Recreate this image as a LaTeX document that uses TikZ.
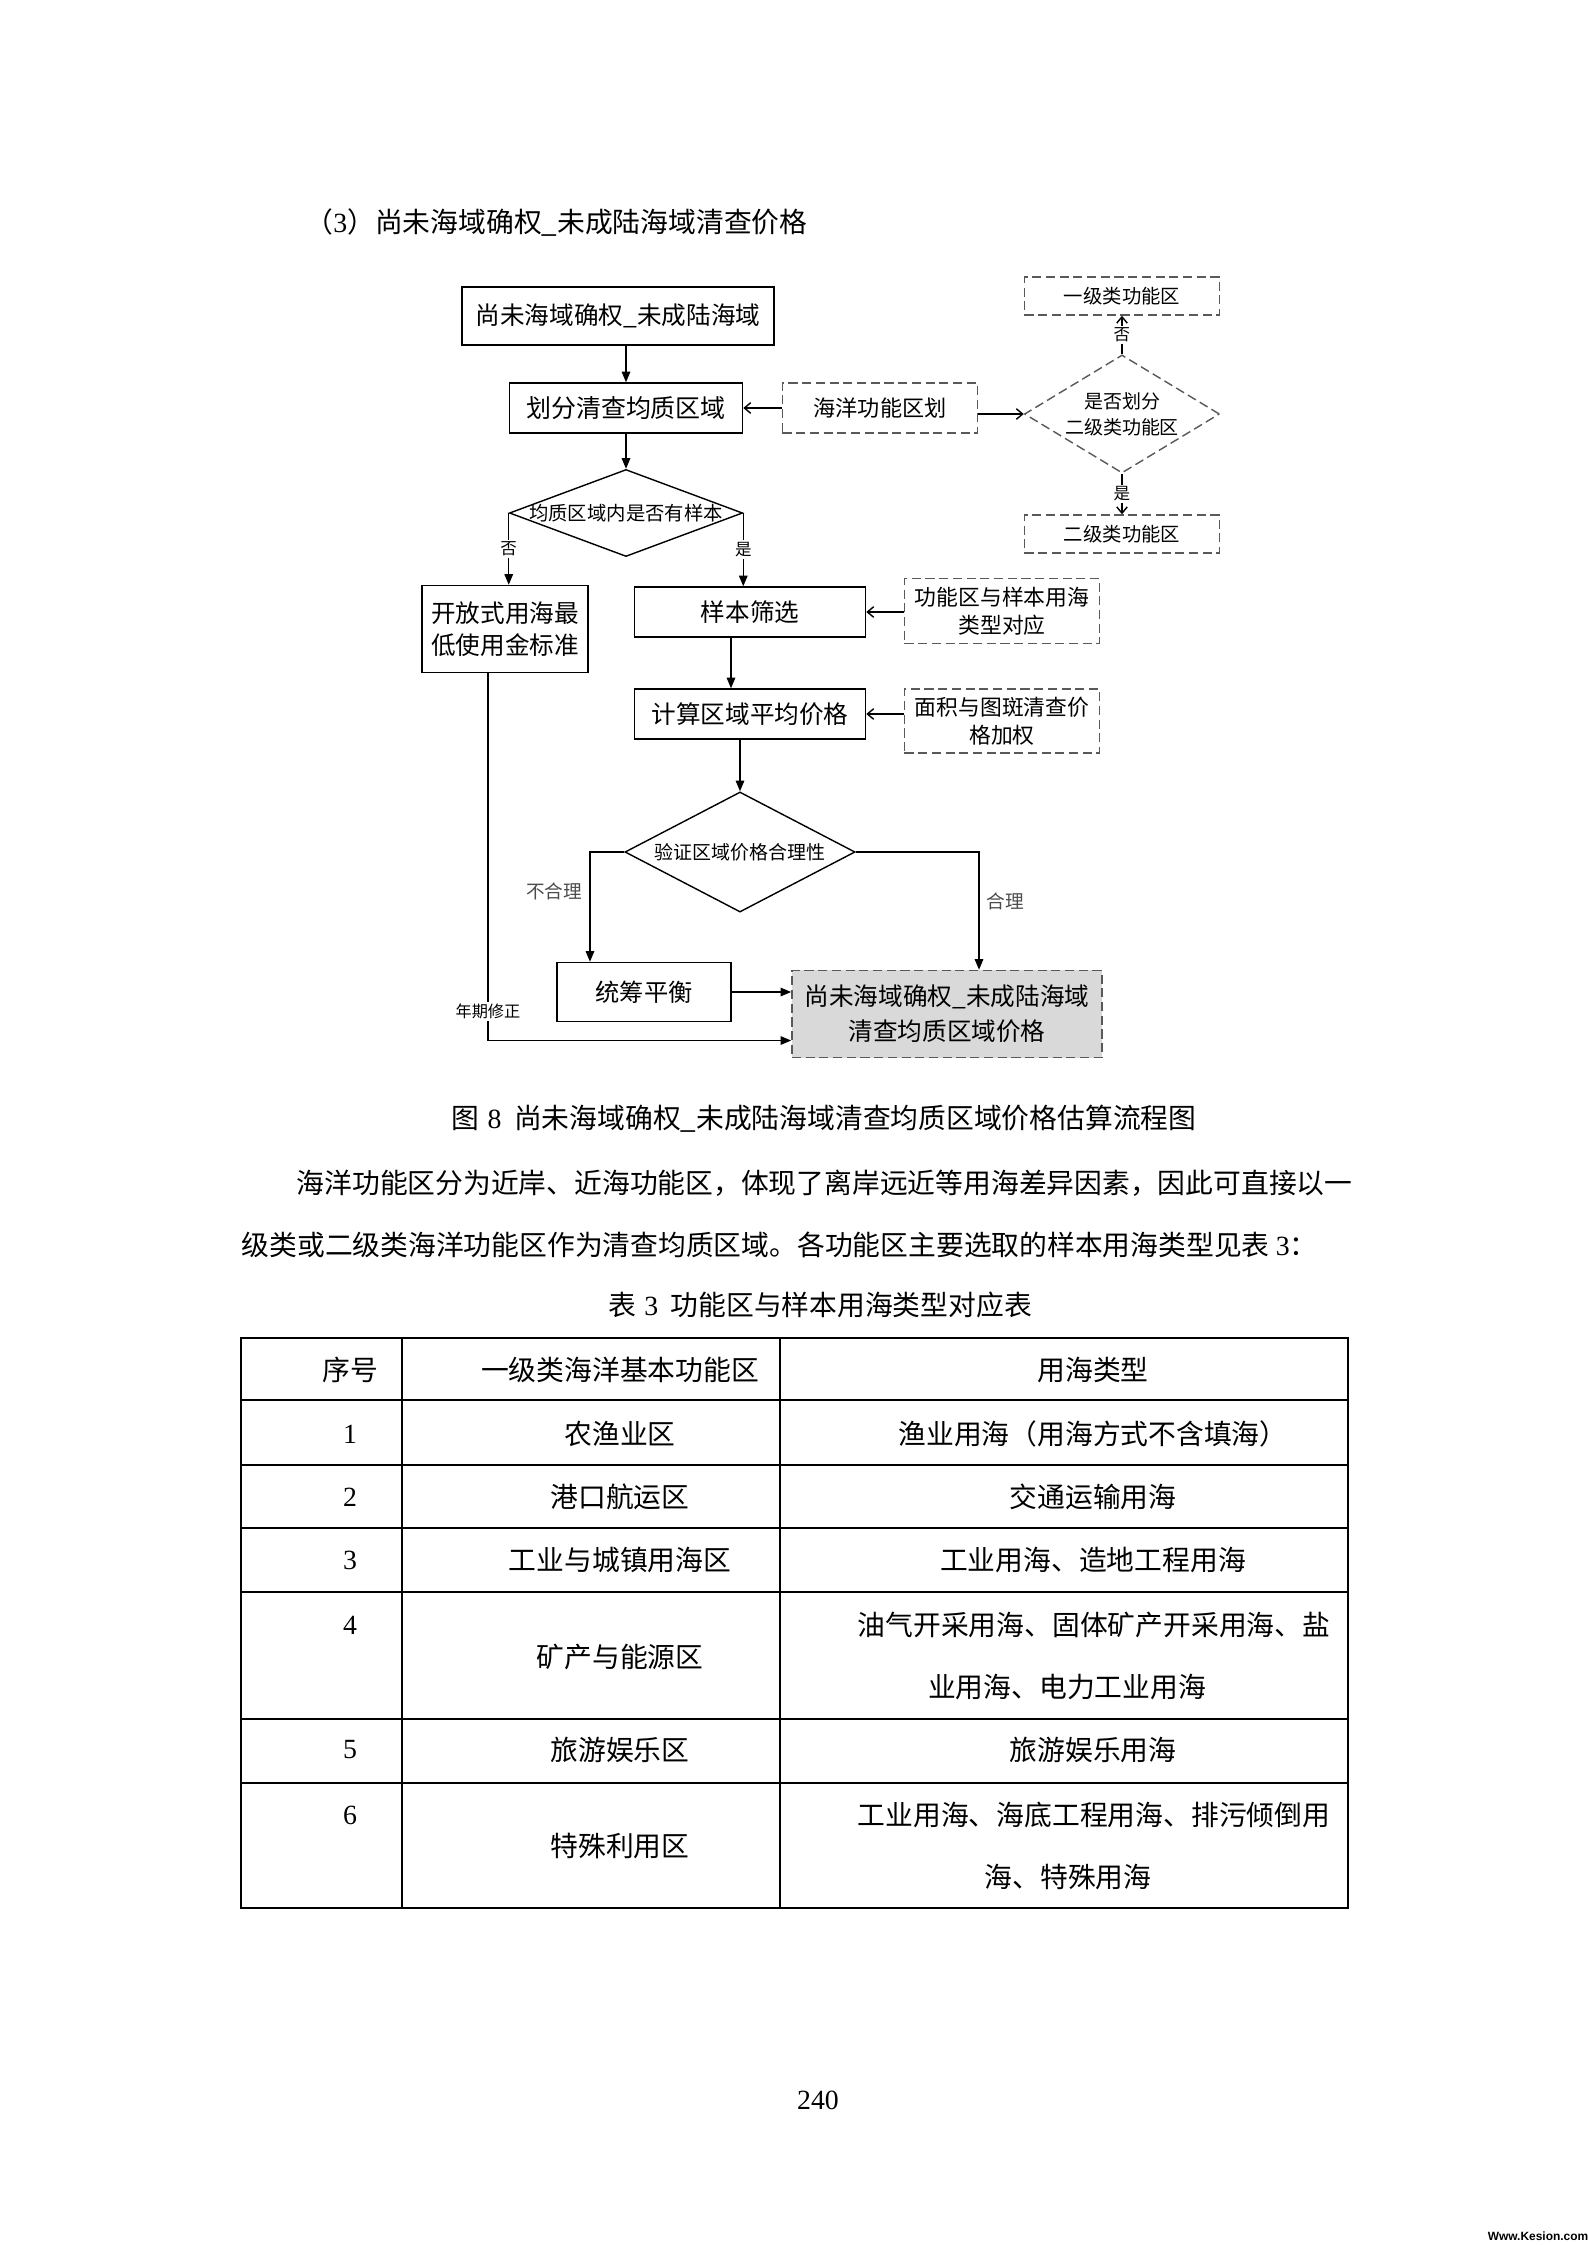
\documentclass[tikz,border=0pt]{standalone}
\usepackage{fontspec}
\setmainfont{Liberation Serif}
\newfontfamily\cjk{Noto Sans CJK SC}
\newfontfamily\wmfont{Liberation Sans}
\usepackage{tikz}
\usetikzlibrary{positioning,arrows.meta,shapes.geometric}
\newcommand\fsz[2]{\fontsize{#1pt}{#2pt}\selectfont}

\begin{document}
\begin{tikzpicture}[x=0.01cm, y=-0.01cm,
    every node/.style={font=\cjk},
    box/.style={draw, line width=0.4pt, align=center, inner sep=0pt},
    dbox/.style={box, draw=black!65, dash pattern=on 2.6pt off 1.3pt},
    diam/.style={diamond, draw, line width=0.4pt, inner sep=0pt, align=center},
    ar/.style={-{Triangle[length=3pt,width=2.4pt]}, line width=0.4pt},
    oar/.style={-{Straight Barb[length=1.8pt,width=3pt]}, line width=0.4pt},
    yn/.style={fill=white, inner sep=0.6pt, font=\cjk\fsz{4.7}{5}},
    lab/.style={font=\cjk\fsz{5.3}{6}, text=black!70, inner sep=2pt},
    body/.style={font=\cjk\fsz{7.9}{9}, inner sep=0pt},
    rule/.style={line width=0.7pt}]
  \fill[white] (0,0) rectangle (1587,2245);
  \useasboundingbox (0,0) rectangle (1587,2245);

  \node[body, anchor=west] (head) at (305,223) {（{\rmfamily 3}）尚未海域确权\_未成陆海域清查价格};

  % flow chart
  \node[box, minimum width=3.12cm, minimum height=0.58cm, font=\cjk\fsz{7}{8}]
    (top) at (618,316) {尚未海域确权\_未成陆海域};
  \node[box, minimum width=2.33cm, minimum height=0.5cm, font=\cjk\fsz{7.1}{8}]
    (split) at (626,408) {划分清查均质区域};
  \node[dbox, minimum width=1.95cm, minimum height=0.5cm, font=\cjk\fsz{6.3}{7}]
    (zoning) at (880,408) {海洋功能区划};
  \node[diam, draw=black!65, dash pattern=on 2.6pt off 1.3pt, aspect=1.64,
        minimum width=1.95cm, minimum height=1.18cm, font=\cjk\fsz{5.4}{7.3}]
    (isTwo) at (1122,414) {是否划分\\二级类功能区};
  \node[dbox, minimum width=1.95cm, minimum height=0.38cm, font=\cjk\fsz{5.5}{6}]
    (lvlOne) at (1122,296) {一级类功能区};
  \node[dbox, minimum width=1.95cm, minimum height=0.38cm, font=\cjk\fsz{5.5}{6}]
    (lvlTwo) at (1122,534) {二级类功能区};
  \node[diam, aspect=2.68, minimum width=2.33cm, minimum height=0.87cm, font=\cjk\fsz{5.5}{6}]
    (hasSample) at (626,513) {\makebox[0pt]{均质区域内是否有样本}};
  \node[box, minimum width=1.66cm, minimum height=0.87cm, font=\cjk\fsz{7}{9.1}]
    (openUse) at (505,629) {开放式用海最\\低使用金标准};
  \node[box, minimum width=2.31cm, minimum height=0.5cm, font=\cjk\fsz{7}{8}]
    (screen) at (750,612) {样本筛选};
  \node[dbox, minimum width=1.95cm, minimum height=0.65cm, font=\cjk\fsz{6.2}{8}]
    (match) at (1002,611) {功能区与样本用海\\类型对应};
  \node[box, minimum width=2.31cm, minimum height=0.5cm, font=\cjk\fsz{7}{8}]
    (avgPrice) at (750,714) {计算区域平均价格};
  \node[dbox, minimum width=1.95cm, minimum height=0.64cm, font=\cjk\fsz{6.2}{8}]
    (weight) at (1002,721) {面积与图斑清查价\\格加权};
  \node[diam, aspect=1.92, minimum width=2.30cm, minimum height=1.20cm, font=\cjk\fsz{5.4}{6}]
    (check) at (740,852) {\makebox[0pt]{验证区域价格合理性}};
  \node[box, minimum width=1.74cm, minimum height=0.59cm, font=\cjk\fsz{6.9}{8}]
    (balance) at (644,992) {统筹平衡};
  \node[dbox, fill=black!15, minimum width=3.10cm, minimum height=0.87cm, font=\cjk\fsz{7}{10}]
    (result) at (947,1014) {尚未海域确权\_未成陆海域\\清查均质区域价格};

  \draw[ar] (split.north |- top.south) -- (split.north);
  \draw[ar] (split) -- (hasSample);
  \draw[oar] (zoning) -- (split);
  \draw[oar] (zoning.east |- isTwo.west) -- (isTwo.west);
  \draw[oar] (isTwo) -- node[yn]{否} (lvlOne);
  \draw[oar] (isTwo) -- node[yn]{是} (lvlTwo);
  \draw[ar] (hasSample.west) -- node[yn]{否} (hasSample.west |- openUse.north);
  \draw[ar] (hasSample.east) -- node[yn]{是} (hasSample.east |- screen.north);
  \draw[oar] (match.west |- screen.east) -- (screen.east);
  \draw[ar] ([xshift=-0.19cm]screen.south) -- ([xshift=-0.19cm]avgPrice.north);
  \draw[oar] (weight.west |- avgPrice.east) -- (avgPrice.east);
  \draw[ar] (check.north |- avgPrice.south) -- (check.north);
  \draw[ar] (check.west) -| node[pos=0.68, left, lab]{不合理} ([xshift=-0.54cm]balance.north);
  \draw[ar] (check.east) -| node[pos=0.71, right, lab]{合理} ([xshift=0.32cm]result.north);
  \draw[ar] (balance.east) -- (balance.east -| result.west);
  \draw[ar] ([xshift=-0.17cm]openUse.south) |- node[pos=0.46, yn, font=\cjk\fsz{4.6}{5}]{年期修正}
    ([yshift=-0.265cm]result.west);

  % caption and text
  \node[body] (cap) at (824,1119) {图\hspace{0.3em}{\rmfamily 8}\hspace{0.45em}尚未海域确权\_未成陆海域清查均质区域价格估算流程图};
  \node[body, anchor=west] (para1) at (296,1183) {海洋功能区分为近岸、近海功能区，体现了离岸远近等用海差异因素，因此可直接以一};
  \node[body, anchor=west] (para2) at (241,1245) {级类或二级类海洋功能区作为清查均质区域。各功能区主要选取的样本用海类型见表 {\rmfamily 3}：};
  \node[body] (tcap) at (820,1305) {表\hspace{0.3em}{\rmfamily 3}\hspace{0.45em}功能区与样本用海类型对应表};

  % table
  \draw[rule] (241,1338) rectangle (1348,1908);
  \foreach \y in {1400,1465,1528,1592,1719,1783}
    \draw[rule] (241,\y) -- (1348,\y);
  \foreach \x in {402,780}
    \draw[rule] (\x,1338) -- (\x,1908);
  \node[body] (hNo) at (350,1370) {序号};
  \node[body] (hZone) at (620,1370) {一级类海洋基本功能区};
  \node[body] (hUse) at (1093,1370) {用海类型};
  \foreach \n/\zone/\usage/\y in {1/农渔业区/渔业用海（用海方式不含填海）/1434,
      2/港口航运区/交通运输用海/1497, 3/工业与城镇用海区/工业用海、造地工程用海/1560,
      5/旅游娱乐区/旅游娱乐用海/1750}{
    \node[body] (num\n) at (350,\y) {\rmfamily\n};
    \node[body] (zone\n) at (620,\y) {\zone};
    \node[body] (use\n) at (1093,\y) {\usage};
  }
  \node[body] (num4) at (350,1625) {\rmfamily 4};
  \node[body] (zone4) at (620,1657) {矿产与能源区};
  \node[body] (use4a) at (1094,1625) {油气开采用海、固体矿产开采用海、盐};
  \node[body] (use4b) at (1067,1687) {业用海、电力工业用海};
  \node[body] (num6) at (350,1815) {\rmfamily 6};
  \node[body] (zone6) at (620,1846) {特殊利用区};
  \node[body] (use6a) at (1094,1815) {工业用海、海底工程用海、排污倾倒用};
  \node[body] (use6b) at (1068,1877) {海、特殊用海};

  \node[body] (page) at (818,2100) {\rmfamily 240};
  \node[font=\wmfont\bfseries\fsz{3.4}{4}, inner sep=0pt] (mark) at (1538,2236) {Www.Kesion.com};
\end{tikzpicture}
\end{document}
